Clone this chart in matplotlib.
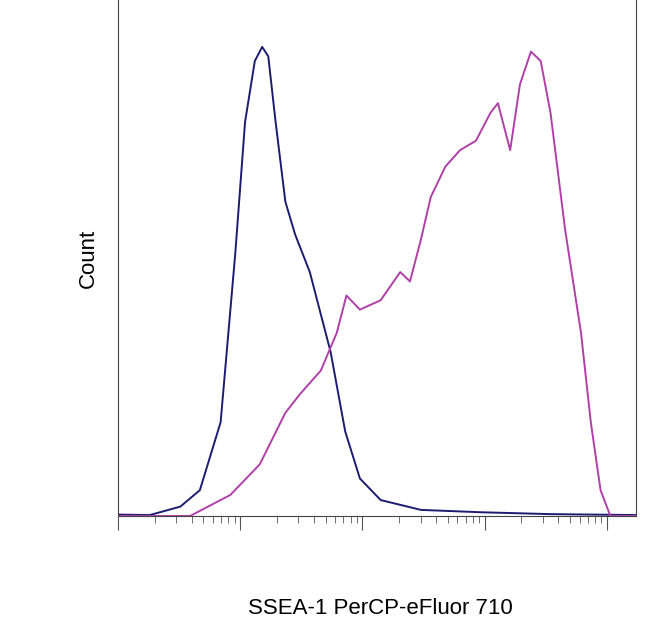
import matplotlib
matplotlib.use("Agg")
import matplotlib.pyplot as plt
import numpy as np
plt.rcParams['font.family'] = ['Liberation Sans', 'DejaVu Sans']

# x in decades above axis start, y in % of max
blue_x = [0.0,0.26,0.51,0.67,0.84,0.96,1.04,1.12,1.18,1.23,1.29,1.37,1.45,1.57,1.74,1.86,1.98,2.15,2.48,2.97,3.54,4.24]
blue_y = [0.3,0.2,2,5.5,20,56,84,97,100,98,84,67,60,52,35,18,8,3.4,1.3,0.8,0.4,0.2]
mag_x = [0.0,0.59,0.92,1.16,1.37,1.49,1.66,1.79,1.87,1.98,2.15,2.31,2.39,2.48,2.56,2.68,2.8,2.93,3.05,3.11,3.21,3.29,3.38,3.46,3.54,3.66,3.79,3.87,3.95,4.03,4.24]
mag_y = [0,0,4.5,11,22,26,31,39,47,44,46,52,50,59,68,74.5,78,80,86,88,78,92,99,97,86,61,39,20,5.5,0,0]

fig = plt.figure(figsize=(6.5,6.3), dpi=100)
ax = fig.add_axes([118/650, 1-516/630, 518/650, 516/630])
ax.plot(blue_x, blue_y, color="#1c1c70", lw=1.4)
ax.plot(mag_x, mag_y, color="#b040a8", lw=1.4)
ax.set_xlim(0, 4.24)
ax.set_ylim(0, 110)
ax.set_yticks([])
major = [0,1,2,3,4]
minor = [d+np.log10(k) for d in range(5) for k in range(2,10) if d+np.log10(k) < 4.24]
ax.set_xticks(major)
ax.set_xticks(minor, minor=True)
ax.set_xticklabels([])
ax.tick_params(axis='x', which='major', length=10, direction='out', color='#555')
ax.tick_params(axis='x', which='minor', length=5, direction='out', color='#555')
for s in ax.spines.values():
    s.set_color('#444')
ax.spines['top'].set_visible(False)
ax.set_ylabel("Count", fontsize=16, labelpad=14)
fig.text(380/650, 1-608/630, "SSEA-1 PerCP-eFluor 710", fontsize=16, ha='center', va='center')
fig.savefig("out.png")
